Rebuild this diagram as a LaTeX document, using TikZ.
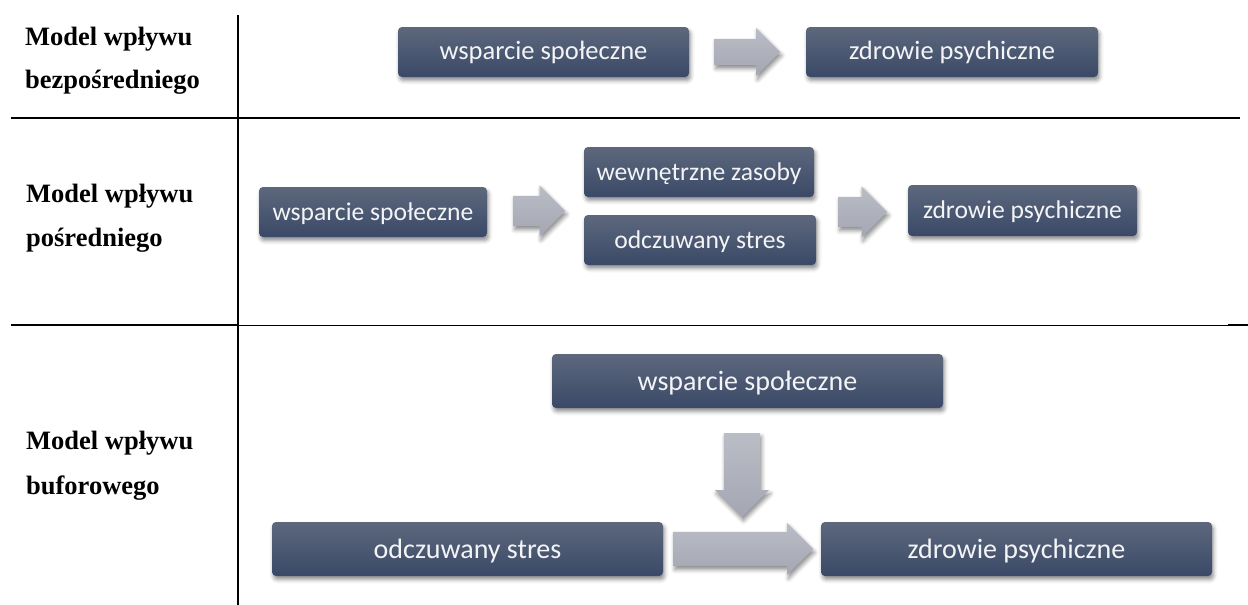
\documentclass[tikz,border=0pt]{standalone}
\usepackage{fontspec}
\setmainfont{Liberation Serif}
\newfontfamily\boxfont{Carlito}
\usetikzlibrary{shapes.arrows,shadows.blur}

\definecolor{boxtop}{RGB}{93,104,124}
\definecolor{boxbot}{RGB}{58,73,104}
\definecolor{arrtop}{RGB}{186,189,198}
\definecolor{arrbot}{RGB}{164,167,178}
\definecolor{boxtext}{RGB}{244,244,246}

\begin{document}
\begin{tikzpicture}[x=1pt,y=-1pt,
  rule/.style={line width=2pt, black},
  thinrule/.style={line width=1pt, black},
  rowlabel/.style={anchor=base west, inner sep=0pt,
    font=\fontsize{26.5}{30}\selectfont\bfseries},
  softshadow/.style={blur shadow={shadow xshift=1.5pt, shadow yshift=-3.5pt,
    shadow blur radius=4pt, shadow opacity=45}},
  box/.style={rounded corners=4pt, top color=boxtop, bottom color=boxbot,
    text=boxtext, inner sep=0pt, text depth=0pt, softshadow},
  box1/.style={box, minimum height=50pt, text height=14.6pt,
    font=\boxfont\fontsize{26.5}{29}\selectfont},
  box2/.style={box, minimum height=50pt, text height=16pt,
    font=\boxfont\fontsize{25.6}{28}\selectfont},
  box3/.style={box, minimum height=54pt, text height=18pt,
    font=\boxfont\fontsize{28}{31}\selectfont},
  blockarrow/.style={single arrow, top color=arrtop, bottom color=arrbot,
    inner xsep=0pt, softshadow, draw=none, anchor=tail},
]
\useasboundingbox (0,0) rectangle (1248,605);

% table rules
\coordinate (vtop) at (238,15);
\coordinate (vbot) at (238,605);
\draw[rule] (vtop) -- (vbot);
\draw[rule] (11,118) -- (1240,118);
\draw[rule] (11,325) -- (238,325);
\draw[thinrule] (238,325) -- (1228,325);
\draw[rule] (1228,325) -- (1248,325);

% row labels
\node[rowlabel] (l1a) at (25,45) {Model wpływu};
\node[rowlabel] (l1b) at (25,88) {bezpośredniego};
\node[rowlabel] (l2a) at (26,202) {Model wpływu};
\node[rowlabel] (l2b) at (26,246) {pośredniego};
\node[rowlabel] (l3a) at (26,449) {Model wpływu};
\node[rowlabel] (l3b) at (26,494) {buforowego};

% direct effect
\node[box1, minimum width=291pt] (b1) at (543.5,52) {wsparcie społeczne};
\node[box1, minimum width=292pt] (b2) at (952,52) {zdrowie psychiczne};
\node[blockarrow, minimum height=66pt, minimum width=48pt, inner ysep=13pt,
  single arrow head extend=11pt] (a1) at (714,52) {};

% indirect effect
\node[box2, minimum width=228pt] (c1) at (373,212) {wsparcie społeczne};
\node[box2, minimum width=230pt] (c2) at (699,172) {wewnętrzne zasoby};
\node[box2, minimum width=232pt] (c3) at (700,240) {odczuwany stres};
\node[box2, minimum width=229pt, minimum height=51pt] (c4) at (1022.5,210.5) {zdrowie psychiczne};
\node[blockarrow, minimum height=52pt, minimum width=51pt, inner ysep=15pt,
  single arrow head extend=10.5pt] (e1) at (513,211) {};
\node[blockarrow, minimum height=49pt, minimum width=51pt, inner ysep=15pt,
  single arrow head extend=10.5pt] (e2) at (838,212) {};

% buffering effect
\node[box3, minimum width=391pt] (d1) at (747.5,381) {wsparcie społeczne};
\node[box3, minimum width=391pt] (d2) at (467.5,549) {odczuwany stres};
\node[box3, minimum width=391pt] (d3) at (1016.5,549) {zdrowie psychiczne};
\node[blockarrow, rotate=-90, minimum height=84pt, minimum width=54pt, inner ysep=18pt,
  single arrow head extend=9pt] (f1) at (742,433) {};
\node[blockarrow, minimum height=140pt, minimum width=52pt, inner ysep=17pt,
  single arrow head extend=9pt] (f2) at (673,549) {};
\end{tikzpicture}
\end{document}
